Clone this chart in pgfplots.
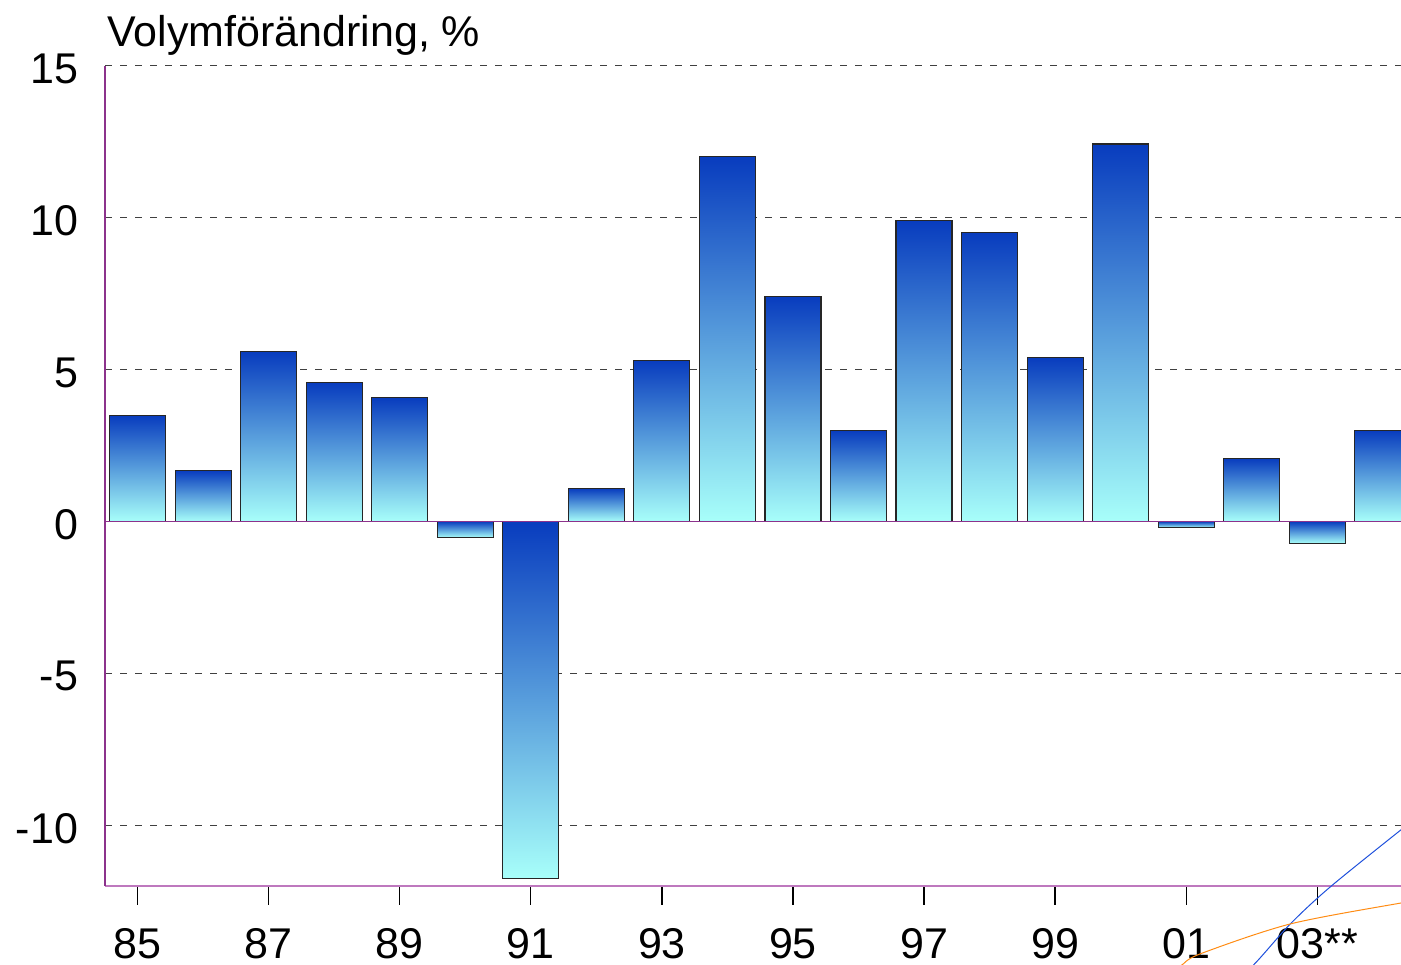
\documentclass[border=0pt]{standalone}
\usepackage{fontspec}
\setmainfont{Liberation Sans}
\usepackage{pgfplots}
\pgfplotsset{compat=1.18}
\definecolor{bartop}{RGB}{8,60,190}
\definecolor{barbot}{RGB}{168,255,250}
\definecolor{axpurple}{RGB}{140,50,140}
\definecolor{axpurplelt}{RGB}{190,120,190}
\pgfplotsset{gbar/.style={ybar, bar width=28pt, draw=black!85, line width=0.55pt, top color=bartop, bottom color=barbot}}
\begin{document}
\begin{tikzpicture}
\begin{axis}[name=ax, scale only axis, width=648pt, height=410pt,
 xmin=84.5, xmax=104.28, ymin=-12, ymax=15,
 axis x line*=bottom, axis y line*=left,
 x axis line style={draw=axpurplelt, line width=0.8pt},
 y axis line style={draw=axpurple, line width=0.6pt},
 xtick={85,87,...,103}, xticklabels={85,87,89,91,93,95,97,99,01,03**},
 ytick={-10,-5,5,10,15}, yticklabels={-10,-5,5,10,15},
 extra y ticks={0}, extra y tick labels={0},
 extra y tick style={grid=none},
 tick align=outside, major tick length=9.5pt,
 xtick style={draw=black, line width=0.6pt},
 ytick style={draw=none},
 ymajorgrids,
 major grid style={dash pattern=on 3.5pt off 4pt, draw=black!75, line width=0.5pt},
 tick label style={font=\fontsize{21.5}{25}\selectfont},
 yticklabel style={anchor=east, xshift=-0.5pt, yshift=-1.5pt},
 xticklabel style={yshift=-8pt},
]
\addplot[gbar] coordinates {(85,3.5)};
\addplot[gbar] coordinates {(86,1.68)};
\addplot[gbar] coordinates {(87,5.6)};
\addplot[gbar] coordinates {(88,4.58)};
\addplot[gbar] coordinates {(89,4.09)};
\addplot[gbar] coordinates {(90,-0.53)};
\addplot[gbar] coordinates {(91,-11.75)};
\addplot[gbar] coordinates {(92,1.09)};
\addplot[gbar] coordinates {(93,5.31)};
\addplot[gbar] coordinates {(94,12.02)};
\addplot[gbar] coordinates {(95,7.42)};
\addplot[gbar] coordinates {(96,3.0)};
\addplot[gbar] coordinates {(97,9.92)};
\addplot[gbar] coordinates {(98,9.53)};
\addplot[gbar] coordinates {(99,5.41)};
\addplot[gbar] coordinates {(100,12.43)};
\addplot[gbar] coordinates {(101,-0.2)};
\addplot[gbar] coordinates {(102,2.08)};
\addplot[gbar] coordinates {(103,-0.72)};
\addplot[gbar] coordinates {(104,3.0)};
\draw[draw=axpurple, line width=0.8pt] (axis cs:84.5,0) -- (axis cs:104.28,0);
\end{axis}
\begin{axis}[at={(ax.south west)}, anchor=south west, scale only axis, width=648pt, height=410pt,
 xmin=84.5, xmax=104.28, ymin=-12, ymax=15, hide axis, clip=false]
\addplot[smooth, draw={rgb,255:red,30;green,80;blue,220}, line width=0.5pt] coordinates {
(101.6,-15.3) (102.01,-14.64) (102.59,-13.25) (103.20,-12.03) (104.28,-10.15) (104.5,-9.8)};
\addplot[smooth, draw={rgb,255:red,255;green,140;blue,20}, line width=0.5pt] coordinates {
(100.6,-15.0) (100.91,-14.64) (101.21,-14.24) (102.59,-13.25) (104.28,-12.56) (104.5,-12.5)};
\end{axis}
\node[anchor=base west, inner sep=0pt, font=\fontsize{21.5}{25}\selectfont] at ([xshift=1pt, yshift=9.5pt]ax.north west) {Volymförändring, \%};
\pgfresetboundingbox
\path[use as bounding box] ([xshift=-52.5pt,yshift=-39.5pt]ax.south west) rectangle ([yshift=33pt]ax.north east);
\end{tikzpicture}
\end{document}
